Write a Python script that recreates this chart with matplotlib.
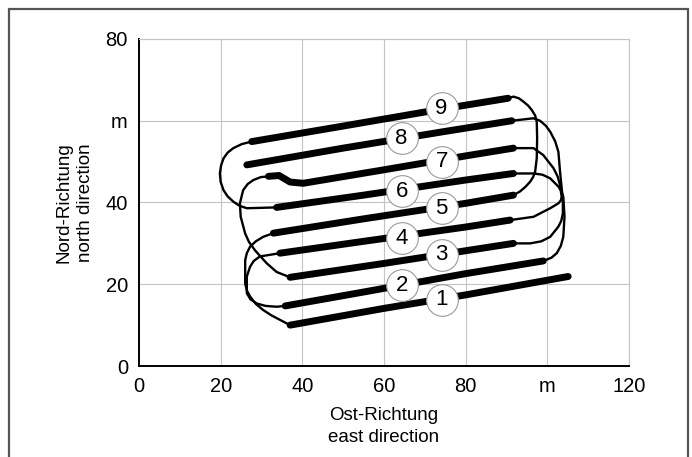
import numpy as np
import matplotlib.pyplot as plt
from matplotlib.patches import Rectangle

plt.rcParams['font.family'] = ['Liberation Sans Narrow', 'Liberation Sans', 'DejaVu Sans']

# working passes (thick), numbered from south to north, east/north in m
passes = {
	1: [(37.0, 10.0), (60.0, 14.1), (80.0, 17.4), (105.1, 21.9)],
	2: [(35.8, 14.7), (55.0, 18.1), (80.0, 22.6), (99.0, 25.7)],
	3: [(37.0, 21.7), (60.0, 25.1), (80.0, 28.2), (91.7, 30.0)],
	4: [(34.5, 27.6), (55.0, 30.5), (80.0, 34.0), (90.9, 35.7)],
	5: [(32.9, 32.5), (55.0, 36.0), (80.0, 39.8), (91.7, 41.8)],
	6: [(33.7, 38.8), (55.0, 41.8), (80.0, 45.5), (91.7, 47.1)],
	7: [(31.7, 46.4), (34.3, 46.6), (37.0, 45.0), (40.2, 44.7), (60.0, 48.0), (80.0, 51.4), (91.7, 53.3)],
	8: [(26.4, 49.2), (50.0, 53.3), (75.0, 57.4), (91.3, 60.0)],
	9: [(27.6, 54.9), (50.0, 58.7), (75.0, 63.0), (90.4, 65.5)],
}

# headland turns (thin) between pass ends
turns = [
	# 8 -> 3 east side
	[(91.3, 60.0), (96.6, 60.6), (98.2, 60.0), (99.6, 58.8), (100.7, 57.3), (101.9, 55.0),
	 (102.7, 52.4), (103.1, 47.6), (103.8, 40.6), (103.8, 37.3), (103.4, 35.5), (102.7, 34.1),
	 (100.7, 31.6), (98.5, 30.5), (95.8, 30.0), (91.7, 30.0)],
	# 3 -> 7 west side
	[(37.0, 21.7), (33.7, 23.0), (31.3, 25.1), (28.4, 28.3), (26.9, 30.4), (26.0, 32.4),
	 (24.9, 36.5), (24.7, 39.8), (25.5, 43.0), (26.6, 44.5), (28.0, 45.5), (29.8, 46.2),
	 (31.7, 46.4)],
	# 7 -> 4 east side
	[(91.7, 53.3), (96.6, 53.3), (99.0, 51.6), (101.5, 48.4), (102.5, 46.4), (103.1, 44.3),
	 (103.5, 41.4), (103.3, 40.5), (102.7, 39.8), (100.7, 38.6), (96.6, 36.5), (90.9, 35.7)],
	# 4 -> 2 west side
	[(34.5, 27.6), (29.6, 26.8), (28.1, 25.7), (27.2, 24.3), (26.4, 21.9), (26.4, 17.8),
	 (27.3, 16.3), (28.8, 15.3), (31.0, 14.7), (33.7, 14.5), (35.8, 14.7)],
	# 2 -> 6 east side
	[(99.0, 25.7), (101.0, 26.5), (102.3, 27.6), (103.3, 29.4), (103.9, 31.6), (104.2, 36.5),
	 (103.9, 41.4), (103.4, 42.8), (102.7, 43.9), (100.7, 45.9), (98.8, 46.8), (96.6, 47.1),
	 (91.7, 47.1)],
	# 6 -> 9 west side
	[(33.7, 38.8), (26.4, 38.6), (24.6, 39.2), (23.1, 40.2), (21.7, 41.5), (20.7, 43.0),
	 (20.0, 45.0), (19.8, 47.1), (20.1, 49.1), (20.7, 50.8), (21.7, 52.2), (23.1, 53.3),
	 (25.2, 54.3), (27.6, 54.9)],
	# 9 -> 5 east side
	[(90.4, 65.5), (91.7, 65.9), (93.0, 65.5), (94.1, 64.7), (95.3, 63.7), (96.2, 62.6),
	 (97.0, 61.3), (97.4, 59.8), (97.5, 55.7), (97.4, 50.8), (97.0, 47.5), (96.5, 46.2),
	 (95.8, 45.1), (94.6, 43.8), (93.3, 42.7), (91.7, 41.8)],
	# 5 -> 1 west side
	[(32.9, 32.5), (30.4, 31.6), (28.6, 30.5), (27.2, 29.2), (26.4, 27.6), (26.0, 25.9),
	 (26.0, 20.2), (26.4, 18.5), (27.2, 17.0), (28.6, 15.2), (30.4, 13.7), (32.4, 12.4),
	 (34.5, 11.3), (37.0, 10.0)],
]

# positions of the circled pass numbers
label_pos = {
	1: (74.1, 16.2), 2: (64.3, 19.8), 3: (74.1, 27.2), 4: (64.3, 31.2), 5: (74.1, 38.6),
	6: (64.3, 42.7), 7: (74.1, 50.0), 8: (64.3, 55.7), 9: (74.1, 63.0),
}

x_ticks = [0, 20, 40, 60, 80, 100, 120]
x_ticklabels = ['0', '20', '40', '60', '80', 'm', '120']
y_ticks = [0, 20, 40, 60, 80]
y_ticklabels = ['0', '20', '40', 'm', '80']

fig = plt.figure(figsize=(6.92, 4.57), dpi=100)
ax = fig.add_axes([0.2009, 0.1991, 0.7081, 0.7156])

for t in turns:
	t = np.array(t)
	ax.plot(t[:, 0], t[:, 1], color='black', linewidth=1.7, solid_capstyle='round',
			solid_joinstyle='round', zorder=2)

for n, p in passes.items():
	p = np.array(p)
	ax.plot(p[:, 0], p[:, 1], color='black', linewidth=5.0, solid_capstyle='round',
			solid_joinstyle='round', zorder=3)

for n, (x, y) in label_pos.items():
	ax.scatter([x], [y], s=520, facecolor='white', edgecolor='#9a9a9a', linewidth=0.8, zorder=4)
	ax.text(x, y, str(n), ha='center', va='center', fontsize=16, zorder=5)

ax.set_xlim(0, 120)
ax.set_ylim(0, 80)
ax.set_xticks(x_ticks)
ax.set_xticklabels(x_ticklabels)
ax.set_yticks(y_ticks)
ax.set_yticklabels(y_ticklabels)
ax.tick_params(length=0, labelsize=14.5, pad=8)
ax.grid(True, color='#c4c4c4', linewidth=0.8)
ax.set_axisbelow(True)

for side in ['top', 'right']:
	ax.spines[side].set_color('#c4c4c4')
	ax.spines[side].set_linewidth(0.8)
for side in ['left', 'bottom']:
	ax.spines[side].set_color('black')
	ax.spines[side].set_linewidth(1.4)

ax.set_xlabel('Ost-Richtung\neast direction', fontsize=13.5, labelpad=8, linespacing=1.4)
ax.set_ylabel('Nord-Richtung\nnorth direction', fontsize=13.5, labelpad=8, linespacing=1.4)

# frame around the figure (open at the bottom edge)
fig.patches.append(Rectangle((9 / 692, -0.05), 679 / 692, 1.05 - 9 / 457, transform=fig.transFigure,
							 fill=False, edgecolor='#555555', linewidth=1.6))

fig.savefig('out.png', dpi=100)
